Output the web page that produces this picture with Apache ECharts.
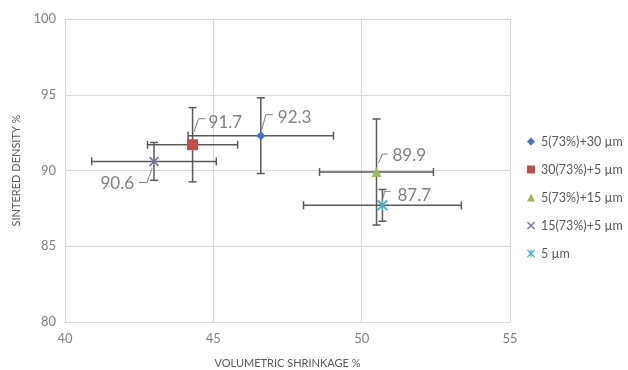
<!DOCTYPE html>
<html><head><meta charset="utf-8">
<script src="https://cdn.jsdelivr.net/npm/echarts@6/dist/echarts.min.js"></script>
<style>html,body{margin:0;padding:0;background:#fff}#c{width:628px;height:370px}</style>
</head><body><div id="c"></div>
<script>
const categories = ['5(73%)+30 µm', '30(73%)+5 µm', '5(73%)+15 µm', '15(73%)+5 µm', '5 µm'];
const xValues = [46.6, 44.3, 50.5, 43.0, 50.7];
const yValues = [92.3, 91.7, 89.9, 90.6, 87.7];
const xErrors = [2.45, 1.52, 1.92, 2.1, 2.66];
const yErrors = [2.5, 2.45, 3.5, 1.25, 1.05];
const xTicks = [40, 45, 50, 55];
const yTicks = [80, 85, 90, 95, 100];

const colors = ['#4472C4', '#C0504D', '#9BBB59', '#7F6F9F', '#4BACC6'];
const xPath = 'path://M0,1.2L1.2,0L5,3.8L8.8,0L10,1.2L6.2,5L10,8.8L8.8,10L5,6.2L1.2,10L0,8.8L3.8,5Z';
const starPath = 'path://M0,1.2L1.2,0L5,3.8L8.8,0L10,1.2L6.2,5L10,8.8L8.8,10L5,6.2L1.2,10L0,8.8L3.8,5Z M4.4,0L5.6,0L5.6,10L4.4,10Z';
const symbols = ['diamond', 'rect', 'triangle', xPath, starPath];
const symbolSizes = [9, 11, 10, 10, 11];
// label placement (pixel offsets from the point): text anchor, alignment, hook polyline
const labelStyles = [
  { text: [17, -18], align: 'left',  hook: [[1, -6], [5, -21], [12, -21]] },
  { text: [16, -22], align: 'left',  hook: [[1, -12], [6, -26], [13, -26]] },
  { text: [16, -16], align: 'left',  hook: [[2, -9], [6, -18], [11, -18]] },
  { text: [-20, 22], align: 'right', hook: [[-2, 7], [-7, 21], [-15, 21]] },
  { text: [15, -10], align: 'left',  hook: [[1, -8], [2, -14], [8, -14]] }
];
const font = 'Lato, "Liberation Sans", sans-serif';

const series = categories.map((name, i) => ({
  name: name,
  type: 'scatter',
  z: 5,
  symbol: symbols[i],
  symbolSize: symbolSizes[i],
  itemStyle: { color: colors[i], opacity: 1 },
  data: [[xValues[i], yValues[i]]]
}));

series.unshift({
  type: 'custom',
  z: 2,
  silent: true,
  data: categories.map((c, i) => [xValues[i], yValues[i], xErrors[i], yErrors[i]]),
  renderItem: function (params, api) {
    const x = api.value(0), y = api.value(1), ex = api.value(2), ey = api.value(3);
    const l = api.coord([x - ex, y]), r = api.coord([x + ex, y]);
    const t = api.coord([x, y + ey]), b = api.coord([x, y - ey]);
    const cap = 4;
    const st = { stroke: '#595959', lineWidth: 1.5 };
    const line = (x1, y1, x2, y2) => ({ type: 'line', shape: { x1, y1, x2, y2 }, style: st });
    return {
      type: 'group',
      children: [
        line(l[0], l[1], r[0], r[1]),
        line(l[0], l[1] - cap, l[0], l[1] + cap),
        line(r[0], r[1] - cap, r[0], r[1] + cap),
        line(t[0], t[1], b[0], b[1]),
        line(t[0] - cap, t[1], t[0] + cap, t[1]),
        line(b[0] - cap, b[1], b[0] + cap, b[1])
      ]
    };
  }
});

series.push({
  type: 'custom',
  z: 6,
  silent: true,
  data: categories.map((c, i) => [xValues[i], yValues[i]]),
  renderItem: function (params, api) {
    const i = params.dataIndex;
    const p = api.coord([api.value(0), api.value(1)]);
    const ls = labelStyles[i];
    return {
      type: 'group',
      children: [
        {
          type: 'polyline',
          shape: { points: ls.hook.map(h => [p[0] + h[0], p[1] + h[1]]) },
          style: { stroke: '#808080', lineWidth: 1, fill: null }
        },
        {
          type: 'text',
          x: p[0] + ls.text[0], y: p[1] + ls.text[1],
          style: {
            text: api.value(1).toFixed(1),
            fill: '#808080',
            font: '17px ' + font,
            align: ls.align,
            verticalAlign: 'middle'
          }
        }
      ]
    };
  }
});

const chart = echarts.init(document.getElementById('c'));
chart.setOption({
  animation: false,
  backgroundColor: '#fff',
  grid: { left: 65, right: 118, top: 19, bottom: 48, outerBoundsMode: 'none', containLabel: false },
  xAxis: {
    type: 'value',
    min: xTicks[0], max: xTicks[xTicks.length - 1], interval: 5,
    name: 'VOLUMETRIC SHRINKAGE %',
    nameLocation: 'middle', nameGap: 36,
    nameTextStyle: { color: '#595959', fontSize: 11, fontFamily: font },
    axisLine: { show: true, lineStyle: { color: '#d9d9d9' } },
    axisTick: { show: false },
    axisLabel: { color: '#808080', fontSize: 13, fontFamily: font, margin: 10 },
    splitLine: { show: true, lineStyle: { color: '#d9d9d9' } }
  },
  yAxis: {
    type: 'value',
    min: yTicks[0], max: yTicks[yTicks.length - 1], interval: 5,
    name: 'SINTERED DENSITY %',
    nameLocation: 'middle', nameGap: 43,
    nameTextStyle: { color: '#595959', fontSize: 11, fontFamily: font },
    axisLine: { show: true, lineStyle: { color: '#d9d9d9' } },
    axisTick: { show: false },
    axisLabel: { color: '#808080', fontSize: 13, fontFamily: font, margin: 9 },
    splitLine: { show: true, lineStyle: { color: '#d9d9d9' } }
  },
  legend: {
    data: categories,
    orient: 'vertical',
    left: 522, top: 130,
    itemWidth: 8, itemHeight: 8, itemGap: 15,
    textStyle: { color: '#595959', fontSize: 12.5, fontFamily: font, padding: [0, 0, 0, 1] }
  },
  series: series
});
</script></body></html>
